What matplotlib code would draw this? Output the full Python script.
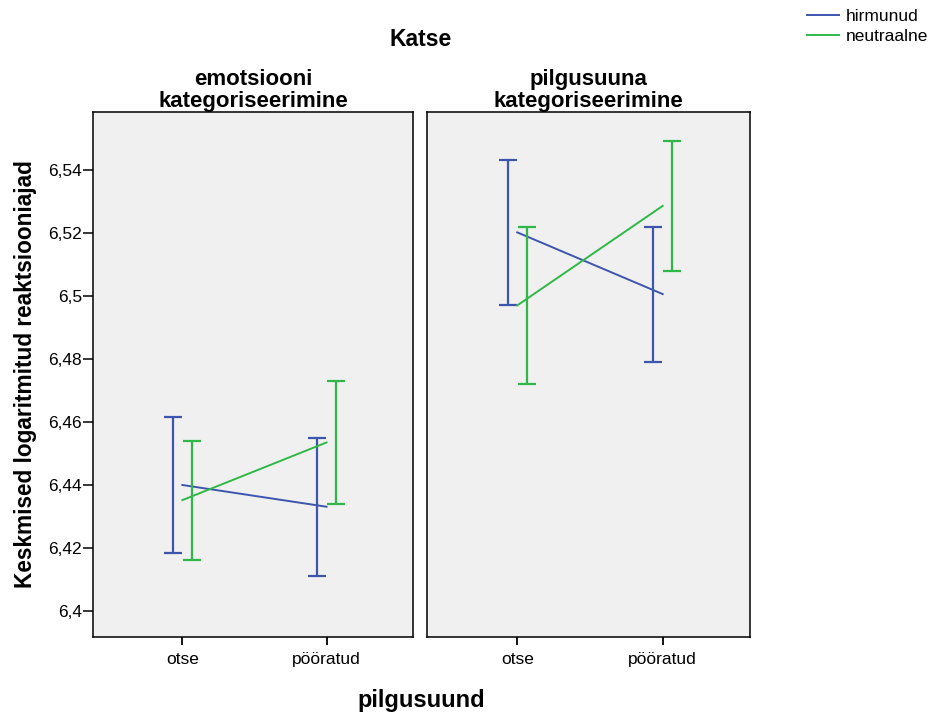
import matplotlib.pyplot as plt
from matplotlib.ticker import FuncFormatter
from matplotlib.lines import Line2D

plt.rcParams['font.family'] = ['Liberation Sans', 'DejaVu Sans']

categories = ['otse', 'pööratud']
panels = ['emotsiooni\nkategoriseerimine', 'pilgusuuna\nkategoriseerimine']
groups = ['hirmunud', 'neutraalne']

# means and CI bounds per panel, per group, per category
means = {
    'hirmunud': [[6.4400, 6.4331], [6.5202, 6.5006]],
    'neutraalne': [[6.4352, 6.4535], [6.4970, 6.5286]],
}
lower = {
    'hirmunud': [[6.4184, 6.4112], [6.4971, 6.4791]],
    'neutraalne': [[6.4163, 6.4340], [6.4721, 6.5080]],
}
upper = {
    'hirmunud': [[6.4617, 6.4549], [6.5432, 6.5220]],
    'neutraalne': [[6.4540, 6.4730], [6.5220, 6.5492]],
}

colors = {'hirmunud': '#3d55ad', 'neutraalne': '#2fb847'}
offsets = {'hirmunud': -0.065, 'neutraalne': 0.065}

fig = plt.figure(figsize=(9.29, 7.15), dpi=100)
ax1 = fig.add_axes([93 / 929, 1 - 637 / 715, 320 / 929, 525 / 715])
ax2 = fig.add_axes([427 / 929, 1 - 637 / 715, 323 / 929, 525 / 715])
axes = [ax1, ax2]

xs = list(range(len(categories)))
for p, ax in enumerate(axes):
    ax.set_facecolor('#f0f0f0')
    for g in groups:
        m = means[g][p]
        lo = [m[i] - lower[g][p][i] for i in xs]
        hi = [upper[g][p][i] - m[i] for i in xs]
        ax.plot(xs, m, color=colors[g], lw=1.4)
        ax.errorbar([x + offsets[g] for x in xs], m, yerr=[lo, hi], fmt='none',
                    ecolor=colors[g], elinewidth=1.6, capsize=6.8, capthick=1.6)
    ax.set_xlim(-0.62, 1.6)
    ax.set_ylim(6.39175, 6.5584)
    ax.set_xticks(xs)
    ax.set_xticklabels(categories, fontsize=12.5)
    ax.tick_params(axis='x', direction='out', length=6, width=1.3, pad=5)
    for s in ax.spines.values():
        s.set_linewidth(1.1)
    ax.set_title(panels[p], fontsize=16, fontweight='bold', linespacing=1.05, pad=3)

ax1.set_yticks([6.4, 6.42, 6.44, 6.46, 6.48, 6.5, 6.52, 6.54])
ax1.yaxis.set_major_formatter(FuncFormatter(lambda v, pos: ('%g' % round(v, 2)).replace('.', ',')))
ax1.tick_params(axis='y', direction='out', length=7, width=1.1, labelsize=12.5, pad=1)
ax2.set_yticks([])
ax1.set_ylabel('Keskmised logaritmitud reaktsiooniajad', fontsize=16.3, fontweight='bold', labelpad=8)

fig.text(421 / 929, 1 - 40 / 715, 'Katse', ha='center', va='center', fontsize=16.5, fontweight='bold')
fig.text(421 / 929, 1 - 701 / 715, 'pilgusuund', ha='center', va='center', fontsize=17, fontweight='bold')

handles = [Line2D([], [], color=colors[g], lw=1.4) for g in groups]
fig.legend(handles, groups, loc='upper right', bbox_to_anchor=(1.008, 1.0), frameon=False,
           fontsize=12.5, handlelength=1.85, handletextpad=0.35, labelspacing=0.3, borderaxespad=0.1)

fig.savefig('out.png', dpi=100)
